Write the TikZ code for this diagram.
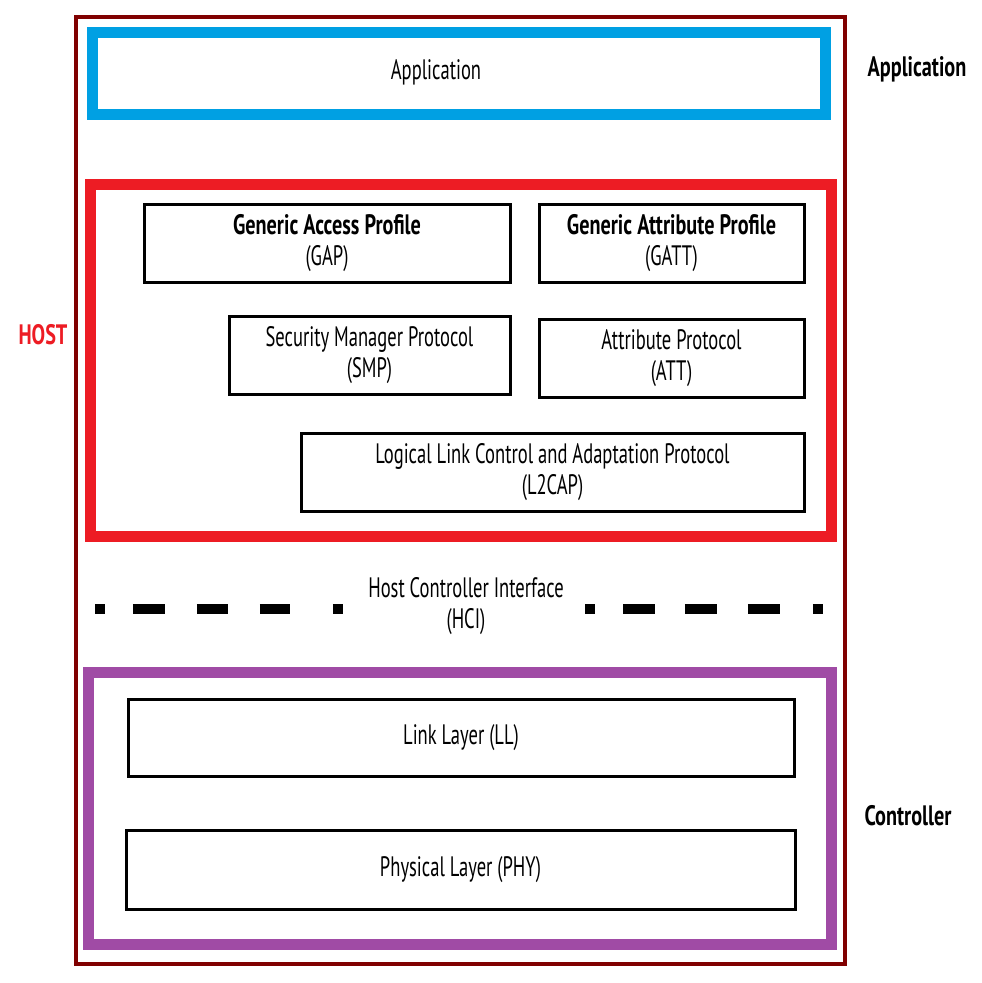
\documentclass[tikz,border=0pt]{standalone}
\usepackage{fontspec}
\setmainfont[FakeStretch=0.66,BoldFeatures={FakeStretch=0.72}]{PT Sans}
\usetikzlibrary{positioning}
\definecolor{framered}{RGB}{128,0,0}
\definecolor{appblue}{RGB}{0,160,227}
\definecolor{hostred}{RGB}{237,28,36}
\definecolor{ctrlpurple}{RGB}{160,75,165}
\newdimen\px \px=0.02cm
\tikzstyle{every node}+=[inner sep=0.5mm,align=center,font=\fontsize{16}{17.6}\selectfont]
\tikzstyle{layer}=[draw=black,line width=3\px]
\tikzstyle{groupbox}=[draw=#1,line width=11\px]
\tikzstyle{side}=[font=\fontsize{16}{18}\selectfont\bfseries]
\tikzstyle{hcidash}=[line width=10\px]

\begin{document}
\begin{tikzpicture}[x=0.02cm,y=-0.02cm]
	\useasboundingbox (0,0) rectangle (981,983);
	\draw[framered,line width=4\px] (76,17) rectangle (845,964);
	% the three groups
	\node[groupbox=appblue,minimum width=733\px,minimum height=82\px] (appbox) at (459,74) {};
	\node[groupbox=hostred,minimum width=741\px,minimum height=352\px] (hostbox) at (461,360.5) {};
	\node[groupbox=ctrlpurple,minimum width=743\px,minimum height=272\px] (ctrlbox) at (459.5,808) {};
	\node (app) at (436,72) {Application};
	% host
	\node[layer,minimum width=366\px,minimum height=77\px] (gap) at (327,243.5) {\textbf{Generic Access Profile}\\(GAP)};
	\node[layer,minimum width=265\px,minimum height=77\px] (gatt) at (671.5,243.5) {\textbf{Generic Attribute Profile}\\(GATT)};
	\node[layer,minimum width=281\px,minimum height=78\px] (smp) at (369.5,355) {Security Manager Protocol\\(SMP)};
	\node[layer,minimum width=265\px,minimum height=78\px] (att) at (671.5,358) {Attribute Protocol\\(ATT)};
	\node[layer,minimum width=503\px,minimum height=78\px] (l2cap) at (552.5,472) {Logical Link Control and Adaptation Protocol\\(L2CAP)};
	% hci
	\node (hci) at (466,606) {Host Controller Interface\\(HCI)};
	\coordinate (hciL1) at (95,609);
	\coordinate (hciL2) at (343,609);
	\coordinate (hciR1) at (585,609);
	\coordinate (hciR2) at (823,609);
	\draw[hcidash,dash pattern=on 0.2cm off 0.56cm on 0.64cm off 0.64cm on 0.62cm off 0.64cm on 0.6cm off 0.86cm on 0.2cm off 1cm] (hciL1) -- (hciL2);
	\draw[hcidash,dash pattern=on 0.2cm off 0.56cm on 0.64cm off 0.6cm on 0.64cm off 0.62cm on 0.64cm off 0.66cm on 0.2cm off 1cm] (hciR1) -- (hciR2);
	% controller
	\node[layer,minimum width=666\px,minimum height=77\px] (ll) at (461,737.5) {Link Layer (LL)};
	\node[layer,minimum width=669\px,minimum height=79\px] (phy) at (460.5,869.5) {Physical Layer (PHY)};
	% labels on the side
	\node[side] (appLabel) at (917,69) {Application};
	\node[side,text=hostred] (hostLabel) at (43,335) {HOST};
	\node[side] (ctrlLabel) at (908,816) {Controller};
\end{tikzpicture}
\end{document}
